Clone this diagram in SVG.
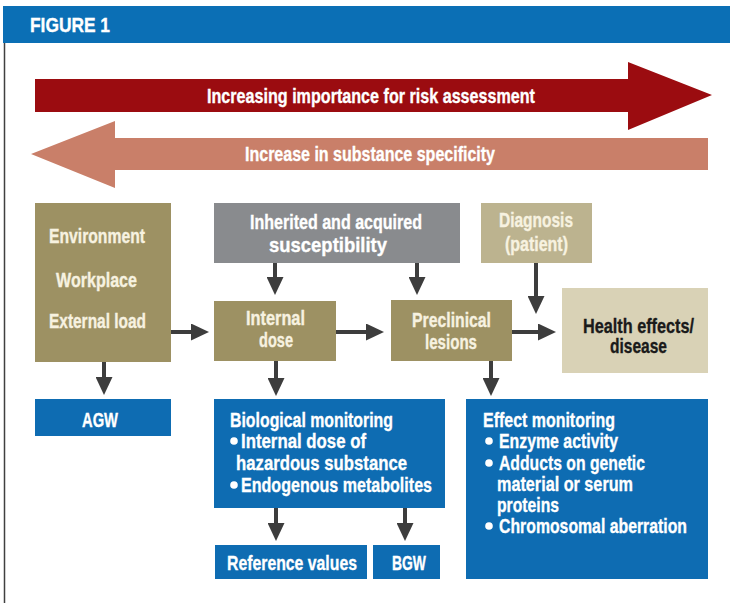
<svg xmlns="http://www.w3.org/2000/svg" width="730" height="603" viewBox="0 0 730 603">
  <defs>
    <style>
      .t { font-family: "Liberation Sans", Arial, sans-serif; font-weight: bold; font-size: 21px; fill: #ffffff; stroke: #ffffff; stroke-width: 0.35px; }
      .cream { fill: #f7f2e0; stroke: #f7f2e0; }
      .dark { fill: #1a1a1a; stroke: #1a1a1a; }
      .khaki { fill: #9d9163; }
      .khaki-light { fill: #bcb38f; }
      .beige { fill: #d9d2b6; }
      .grey { fill: #898b8e; }
      .blue { fill: #0e6cb2; }
      .conn { stroke: #3d3d3d; stroke-width: 4; fill: none; marker-end: url(#head); }
      .bullet { fill: #ffffff; }
    </style>
    <marker id="head" markerUnits="userSpaceOnUse" markerWidth="18" markerHeight="17" refX="2" refY="8.5" orient="auto">
      <path d="M0,0 L18,8.5 L0,17 Z" fill="#3d3d3d"/>
    </marker>
  </defs>

  <rect width="730" height="603" fill="#ffffff"/>

  <!-- title bar -->
  <g id="title">
    <rect x="3" y="6" width="727" height="37" fill="#0b6fb5"/>
    <text class="t" x="30" y="32" font-size="22" textLength="80" lengthAdjust="spacingAndGlyphs">FIGURE 1</text>
    <line x1="4.5" y1="43" x2="4.5" y2="603" stroke="#404040" stroke-width="1.5"/>
  </g>

  <!-- scale arrows -->
  <g id="risk-arrow">
    <polygon points="35,79 628,79 628,62 712,95 628,130 628,112 35,112" fill="#9b0c10"/>
    <text class="t" x="207" y="103" font-size="20" textLength="328" lengthAdjust="spacingAndGlyphs">Increasing importance for risk assessment</text>
  </g>
  <g id="specificity-arrow">
    <polygon points="708,138 115,138 115,121 31,154 115,188 115,170 708,170" fill="#c97f69"/>
    <text class="t" x="245" y="161" font-size="20" textLength="250" lengthAdjust="spacingAndGlyphs">Increase in substance specificity</text>
  </g>

  <!-- connectors -->
  <g id="connectors">
    <line class="conn" x1="104" y1="362" x2="104" y2="379"/>
    <line class="conn" x1="171" y1="332" x2="193" y2="332"/>
    <line class="conn" x1="275" y1="263" x2="275" y2="279"/>
    <line class="conn" x1="417" y1="263" x2="417" y2="279"/>
    <line class="conn" x1="336" y1="332" x2="368" y2="332"/>
    <line class="conn" x1="276" y1="361" x2="276" y2="380"/>
    <line class="conn" x1="536" y1="263" x2="536" y2="298"/>
    <line class="conn" x1="512" y1="332" x2="540" y2="332"/>
    <line class="conn" x1="491" y1="361" x2="491" y2="380"/>
    <line class="conn" x1="276" y1="508" x2="276" y2="525"/>
    <line class="conn" x1="405" y1="508" x2="405" y2="525"/>
  </g>

  <!-- exposure sources -->
  <g id="exposure">
    <rect class="khaki" x="35" y="203" width="136" height="159"/>
    <text class="t cream" x="49" y="243" textLength="96" lengthAdjust="spacingAndGlyphs">Environment</text>
    <text class="t cream" x="56" y="287" textLength="81" lengthAdjust="spacingAndGlyphs">Workplace</text>
    <text class="t cream" x="49" y="328" textLength="97" lengthAdjust="spacingAndGlyphs">External load</text>
  </g>

  <g id="agw">
    <rect class="blue" x="35" y="399" width="136" height="37"/>
    <text class="t" x="82" y="427" textLength="36" lengthAdjust="spacingAndGlyphs">AGW</text>
  </g>

  <g id="susceptibility">
    <rect class="grey" x="214" y="203" width="246" height="60"/>
    <text class="t" x="250" y="229" textLength="172" lengthAdjust="spacingAndGlyphs">Inherited and acquired</text>
    <text class="t" x="269" y="252" textLength="118" lengthAdjust="spacingAndGlyphs">susceptibility</text>
  </g>

  <g id="diagnosis">
    <rect class="khaki-light" x="481" y="203" width="111" height="60"/>
    <text class="t cream" x="499" y="227" textLength="74" lengthAdjust="spacingAndGlyphs">Diagnosis</text>
    <text class="t cream" x="505" y="251" textLength="63" lengthAdjust="spacingAndGlyphs">(patient)</text>
  </g>

  <g id="internal-dose">
    <rect class="khaki" x="214" y="301" width="122" height="60"/>
    <text class="t cream" x="246" y="325" textLength="59" lengthAdjust="spacingAndGlyphs">Internal</text>
    <text class="t cream" x="259" y="347" textLength="34" lengthAdjust="spacingAndGlyphs">dose</text>
  </g>

  <g id="preclinical">
    <rect class="khaki" x="391" y="300" width="121" height="61"/>
    <text class="t cream" x="412" y="327" textLength="79" lengthAdjust="spacingAndGlyphs">Preclinical</text>
    <text class="t cream" x="425" y="349" textLength="52" lengthAdjust="spacingAndGlyphs">lesions</text>
  </g>

  <g id="health-effects">
    <rect class="beige" x="562" y="288" width="146" height="85"/>
    <text class="t dark" x="583" y="333" textLength="111" lengthAdjust="spacingAndGlyphs">Health effects/</text>
    <text class="t dark" x="610" y="353" textLength="57" lengthAdjust="spacingAndGlyphs">disease</text>
  </g>

  <g id="biological-monitoring">
    <rect class="blue" x="214" y="399" width="231" height="109"/>
    <text class="t" x="230" y="427" textLength="163" lengthAdjust="spacingAndGlyphs">Biological monitoring</text>
    <circle class="bullet" cx="234" cy="441" r="3.8"/>
    <text class="t" x="241" y="448" textLength="125" lengthAdjust="spacingAndGlyphs">Internal dose of</text>
    <text class="t" x="236" y="470" textLength="171" lengthAdjust="spacingAndGlyphs">hazardous substance</text>
    <circle class="bullet" cx="234" cy="485" r="3.8"/>
    <text class="t" x="241" y="492" textLength="191" lengthAdjust="spacingAndGlyphs">Endogenous metabolites</text>
  </g>

  <g id="reference-values">
    <rect class="blue" x="215" y="545" width="152" height="34"/>
    <text class="t" x="227" y="570" textLength="130" lengthAdjust="spacingAndGlyphs">Reference values</text>
  </g>

  <g id="bgw">
    <rect class="blue" x="373" y="545" width="67" height="34"/>
    <text class="t" x="392" y="570" textLength="34" lengthAdjust="spacingAndGlyphs">BGW</text>
  </g>

  <g id="effect-monitoring">
    <rect class="blue" x="466" y="399" width="242" height="180"/>
    <text class="t" x="483" y="427" textLength="132" lengthAdjust="spacingAndGlyphs">Effect monitoring</text>
    <circle class="bullet" cx="489" cy="441" r="3.8"/>
    <text class="t" x="499" y="448" textLength="119" lengthAdjust="spacingAndGlyphs">Enzyme activity</text>
    <circle class="bullet" cx="489" cy="463" r="3.8"/>
    <text class="t" x="499" y="470" textLength="146" lengthAdjust="spacingAndGlyphs">Adducts on genetic</text>
    <text class="t" x="497" y="491" textLength="136" lengthAdjust="spacingAndGlyphs">material or serum</text>
    <text class="t" x="497" y="512" textLength="62" lengthAdjust="spacingAndGlyphs">proteins</text>
    <circle class="bullet" cx="489" cy="526" r="3.8"/>
    <text class="t" x="499" y="533" textLength="188" lengthAdjust="spacingAndGlyphs">Chromosomal aberration</text>
  </g>
</svg>
